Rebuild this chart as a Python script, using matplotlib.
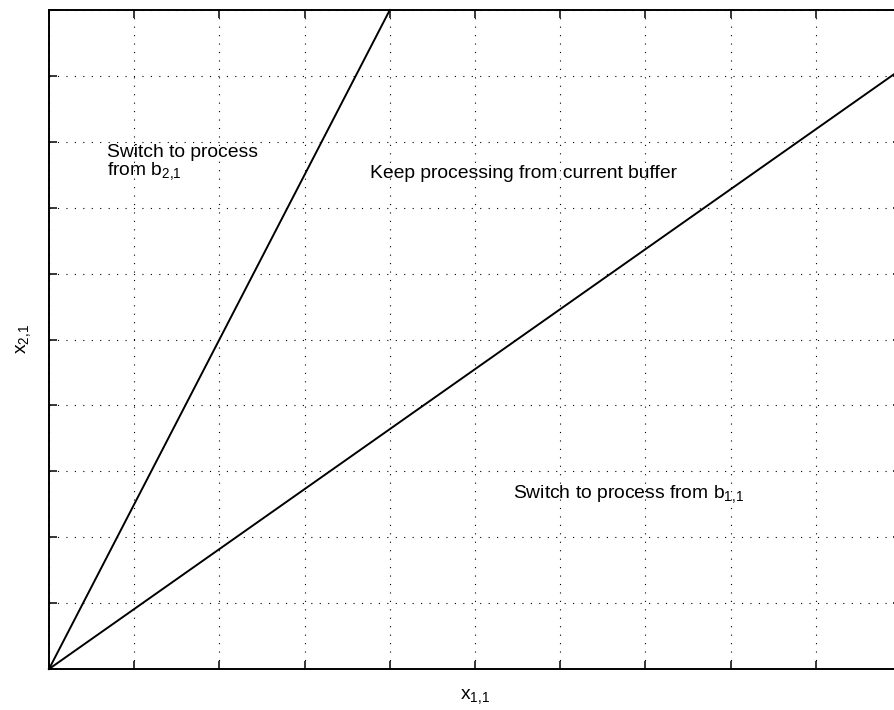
import matplotlib

matplotlib.use("Agg")
import matplotlib.pyplot as plt

# grid positions (both axes run 0..10, no tick labels)
x_ticks = list(range(0, 11))
y_ticks = list(range(0, 11))

# decision boundaries, drawn from the origin
steep_x = [0, 4]
steep_y = [0, 10]
shallow_x = [0, 10]
shallow_y = [0, 9.1]

# region labels: (text, x, y) - y is the baseline of the last line
labels = [
    ("Switch to process\n" + r"from $\mathregular{b_{2{,}1}}$", 0.68, 7.50),
    ("Keep processing from current buffer", 3.77, 7.45),
    (r"Switch to process from $\mathregular{b_{1{,}1}}$", 5.45, 2.59),
]

plt.rcParams["font.family"] = ["Liberation Sans", "DejaVu Sans"]
plt.rcParams["mathtext.fontset"] = "custom"
plt.rcParams["mathtext.rm"] = "Liberation Sans"

fig = plt.figure(figsize=(8.95, 7.1), dpi=100)
ax = fig.add_axes([49 / 895, 41 / 710, 852 / 895, 659 / 710])

ax.plot(steep_x, steep_y, color="black", linewidth=1.4, clip_on=False)
ax.plot(shallow_x, shallow_y, color="black", linewidth=1.4, clip_on=False)

for text, x, y in labels:
    ax.text(x, y, text, fontsize=13.9, va="baseline", ha="left",
            linespacing=0.95)

ax.set_xlim(0, 10)
ax.set_ylim(0, 10)
ax.set_xticks(x_ticks)
ax.set_yticks(y_ticks)
ax.set_xticklabels([])
ax.set_yticklabels([])
ax.tick_params(direction="in", length=6, width=1.1, top=True, right=True)
ax.grid(True, color="black", linewidth=0.8, linestyle=(0, (1, 6.6)))
for spine in ax.spines.values():
    spine.set_linewidth(1.4)

ax.set_xlabel(r"$\mathregular{x_{1{,}1}}$", fontsize=13.9)
ax.set_ylabel(r"$\mathregular{x_{2{,}1}}$", fontsize=13.9)
ax.xaxis.set_label_coords(0.5, -0.027)
ax.yaxis.set_label_coords(-0.019, 0.5)

fig.savefig("out.png", dpi=100)
